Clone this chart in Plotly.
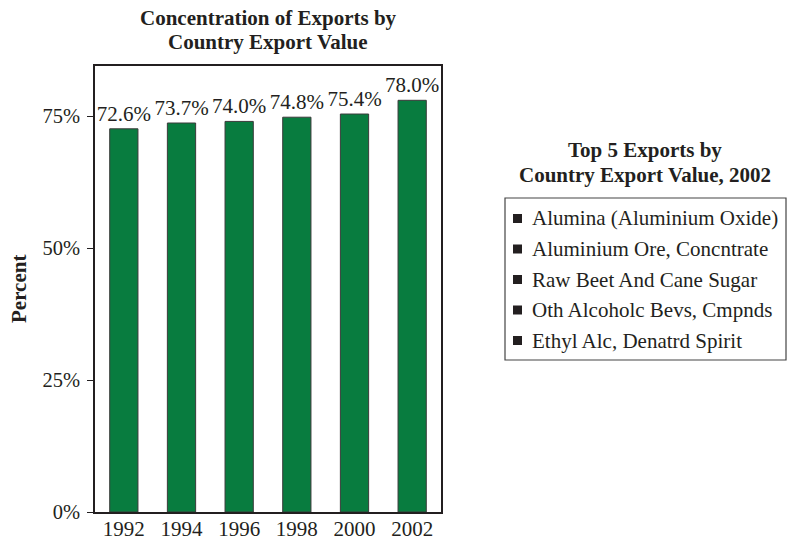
import plotly.graph_objects as go

# Share of export value held by the top 5 products, by year
years = ["1992", "1994", "1996", "1998", "2000", "2002"]
top5_share = [72.6, 73.7, 74.0, 74.8, 75.4, 78.0]

# Top 5 exports in 2002
top_exports = [
    "Alumina (Aluminium Oxide)",
    "Aluminium Ore, Concntrate",
    "Raw Beet And Cane Sugar",
    "Oth Alcoholc Bevs, Cmpnds",
    "Ethyl Alc, Denatrd Spirit",
]

y_ticks = [0, 25, 50, 75]
y_tick_text = ["0%", "25%", "50%", "75%"]

W, H = 787, 541
ML, MR, MT, MB = 95, 346, 66, 29
PW, PH = W - ML - MR, H - MT - MB

FONT = "Liberation Serif"
INK = "#231F20"
GREEN = "#087C3F"


def px_x(px):
    return (px - ML) / PW


def px_y(py):
    return 1 - (py - MT) / PH


fig = go.Figure(
    go.Bar(
        x=years,
        y=top5_share,
        width=0.49,
        marker=dict(color=GREEN, line=dict(color="#3a3a3a", width=1)),
        text=[f"{v:.1f}%" for v in top5_share],
        textposition="outside",
        constraintext="none",
        cliponaxis=False,
        textfont=dict(family=FONT, size=21, color=INK),
        showlegend=False,
        hoverinfo="skip",
    )
)

annotations = [
    dict(text="<b>Concentration of Exports by</b>", x=0.5, y=px_y(18)),
    dict(text="<b>Country Export Value</b>", x=0.5, y=px_y(42)),
    dict(text="<b>Percent</b>", x=px_x(19), y=0.5, textangle=-90),
    dict(text="<b>Top 5 Exports by</b>", x=px_x(645), y=px_y(150)),
    dict(text="<b>Country Export Value, 2002</b>", x=px_x(645), y=px_y(175)),
]
for a in annotations:
    a.update(xref="paper", yref="paper", showarrow=False,
             xanchor="center", yanchor="middle",
             font=dict(family=FONT, size=21, color=INK))

shapes = [
    dict(type="rect", xref="paper", yref="paper",
         x0=px_x(505), x1=px_x(786), y0=px_y(360), y1=px_y(198),
         line=dict(color="#444", width=1.2), fillcolor="rgba(0,0,0,0)"),
]

# Legend entries for the top 5 exports
row0, row_step = 218.5, 30.5
for i, name in enumerate(top_exports):
    cy = row0 + i * row_step
    shapes.append(dict(type="rect", xref="paper", yref="paper",
                       x0=px_x(513), x1=px_x(522), y0=px_y(cy + 4.5), y1=px_y(cy - 4.5),
                       line=dict(width=0), fillcolor=INK))
    annotations.append(dict(text=name, xref="paper", yref="paper",
                            x=px_x(530), y=px_y(cy), xanchor="left", yanchor="middle",
                            showarrow=False,
                            font=dict(family=FONT, size=21, color=INK)))

fig.update_layout(
    width=W, height=H,
    margin=dict(l=ML, r=MR, t=MT, b=MB, autoexpand=False),
    paper_bgcolor="white", plot_bgcolor="white",
    annotations=annotations,
    shapes=shapes,
    font=dict(family=FONT, size=21, color=INK),
    bargap=0.5,
)
fig.update_xaxes(
    type="category", range=[-0.5, 5.5], automargin=False,
    showline=True, linecolor="#231F20", linewidth=1.5, mirror=True,
    ticks="", showgrid=False, ticklabelstandoff=-3,
    tickfont=dict(family=FONT, size=21, color=INK),
)
fig.update_yaxes(
    range=[0, 84.5], automargin=False,
    tickvals=y_ticks, ticktext=y_tick_text,
    showline=True, linecolor="#231F20", linewidth=1.5, mirror=True,
    ticks="outside", ticklen=6, tickcolor="#231F20", tickwidth=1.2,
    ticklabelstandoff=3,
    showgrid=False, zeroline=False,
    tickfont=dict(family=FONT, size=20.5, color=INK),
)

fig.write_html("out.html")
